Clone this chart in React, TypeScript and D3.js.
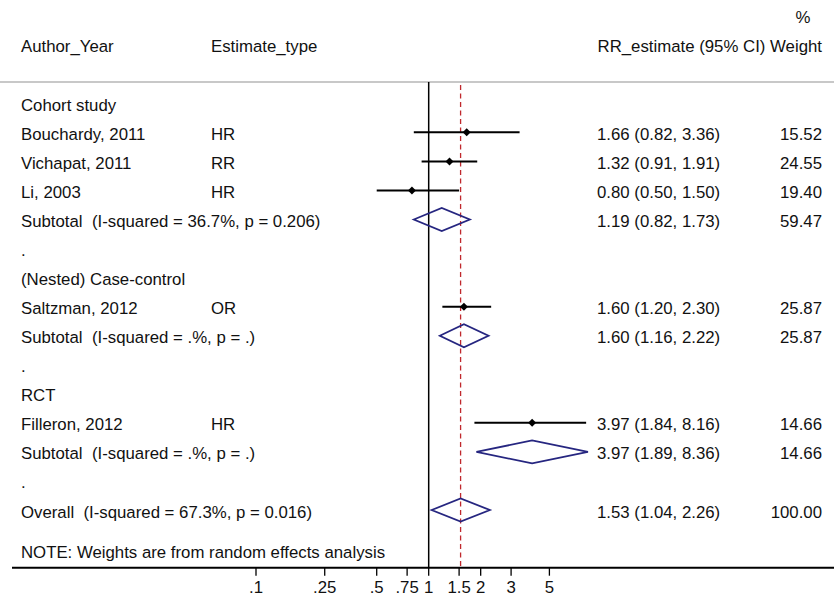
import React from "react";
import * as d3 from "d3";

// Study rows of the forest plot, in display order
const rowLabels = [
  "Cohort study",
  "Bouchardy, 2011",
  "Vichapat, 2011",
  "Li, 2003",
  "Subtotal  (I-squared = 36.7%, p = 0.206)",
  ".",
  "(Nested) Case-control",
  "Saltzman, 2012",
  "Subtotal  (I-squared = .%, p = .)",
  ".",
  "RCT",
  "Filleron, 2012",
  "Subtotal  (I-squared = .%, p = .)",
  ".",
  "Overall  (I-squared = 67.3%, p = 0.016)",
];
// kind: "head" = group heading / spacer, "study" = single estimate, "pooled" = diamond
const rowKinds = [
  "head", "study", "study", "study", "pooled", "head",
  "head", "study", "pooled", "head",
  "head", "study", "pooled", "head",
  "pooled",
];
const estimateTypes = ["", "HR", "RR", "HR", "", "", "", "OR", "", "", "", "HR", "", "", ""];
const rrEstimate: (number | null)[] = [null, 1.66, 1.32, 0.8, 1.19, null, null, 1.6, 1.6, null, null, 3.97, 3.97, null, 1.53];
const ciLower: (number | null)[] = [null, 0.82, 0.91, 0.5, 0.82, null, null, 1.2, 1.16, null, null, 1.84, 1.89, null, 1.04];
const ciUpper: (number | null)[] = [null, 3.36, 1.91, 1.5, 1.73, null, null, 2.3, 2.22, null, null, 8.16, 8.36, null, 2.26];
const weights: (string | null)[] = [null, "15.52", "24.55", "19.40", "59.47", null, null, "25.87", "25.87", null, null, "14.66", "14.66", null, "100.00"];

const tickValues = [0.1, 0.25, 0.5, 0.75, 1, 1.5, 2, 3, 5];
const tickLabels = [".1", ".25", ".5", ".75", "1", "1.5", "2", "3", "5"];
const overallEstimate = 1.53;

const W = 834;
const H = 598;
const FONT = "'Liberation Sans', Arial, sans-serif";
const FS = 16.8;
const TXT = "#111";
const NAVY = "#262680";
const RED = "#c0282d";

const fmt = (v: number) => v.toFixed(2);

export default function App() {
  const x = d3.scaleLog().domain([0.1, 5]).range([256, 549.4]);
  const rowY = d3
    .scaleLinear()
    .domain([0, rowLabels.length - 1])
    .range([103.3, 103.3 + 29.05 * (rowLabels.length - 1)]);

  const axisY = 567.7;
  const headerLineY = 82;

  return (
    <svg
      width={W}
      height={H}
      style={{ position: "absolute", left: 0, top: 0, display: "block", background: "#fff" }}
      fontFamily={FONT}
    >
      <rect x={0} y={0} width={W} height={H} fill="#fff" />

      {/* header */}
      <text x={803} y={23} fontSize={FS} fill={TXT} textAnchor="middle">%</text>
      <text x={21} y={52} fontSize={FS} fill={TXT}>Author_Year</text>
      <text x={211} y={52} fontSize={FS} fill={TXT}>Estimate_type</text>
      <text x={822} y={52} fontSize={FS} fill={TXT} textAnchor="end">RR_estimate (95% CI) Weight</text>
      <line x1={0} x2={W} y1={headerLineY} y2={headerLineY} stroke="#c8c8c8" strokeWidth={2} />

      {/* null line and overall estimate line */}
      <line x1={x(1)} x2={x(1)} y1={headerLineY} y2={axisY} stroke="#000" strokeWidth={1.5} />
      <line
        x1={x(overallEstimate)}
        x2={x(overallEstimate)}
        y1={85}
        y2={axisY}
        stroke={RED}
        strokeWidth={1.3}
        strokeDasharray="5,3.5"
      />

      {/* rows */}
      {rowLabels.map((label, i) => {
        const y = rowY(i);
        const kind = rowKinds[i];
        const est = rrEstimate[i];
        const lo = ciLower[i];
        const hi = ciUpper[i];
        return (
          <g key={i}>
            <text x={21} y={y + 7.5} fontSize={FS} fill={TXT} style={{ whiteSpace: "pre" }}>
              {label}
            </text>
            {estimateTypes[i] && (
              <text x={211} y={y + 7.5} fontSize={FS} fill={TXT}>
                {estimateTypes[i]}
              </text>
            )}
            {est !== null && lo !== null && hi !== null && (
              <>
                <text x={597} y={y + 7.5} fontSize={FS} fill={TXT}>
                  {`${fmt(est)} (${fmt(lo)}, ${fmt(hi)})`}
                </text>
                <text x={822} y={y + 7.5} fontSize={FS} fill={TXT} textAnchor="end">
                  {weights[i]}
                </text>
                {kind === "study" && (
                  <>
                    <line x1={x(lo)} x2={x(hi)} y1={y} y2={y} stroke="#000" strokeWidth={2} />
                    <path
                      d={`M${x(est) - 4},${y} L${x(est)},${y - 4} L${x(est) + 4},${y} L${x(est)},${y + 4} Z`}
                      fill="#000"
                    />
                  </>
                )}
                {kind === "pooled" && (
                  <path
                    d={`M${x(lo)},${y} L${x(est)},${y - 11.5} L${x(hi)},${y} L${x(est)},${y + 11.5} Z`}
                    fill="none"
                    stroke={NAVY}
                    strokeWidth={1.8}
                  />
                )}
              </>
            )}
          </g>
        );
      })}

      <text x={21} y={558} fontSize={FS} fill={TXT}>NOTE: Weights are from random effects analysis</text>

      {/* x axis */}
      <line x1={12} x2={W} y1={axisY} y2={axisY} stroke="#000" strokeWidth={2} />
      {tickValues.map((t, i) => (
        <g key={t}>
          <line x1={x(t)} x2={x(t)} y1={axisY} y2={axisY + 8} stroke="#000" strokeWidth={1.3} />
          <text x={x(t)} y={593} fontSize={FS} fill={TXT} textAnchor="middle">
            {tickLabels[i]}
          </text>
        </g>
      ))}
    </svg>
  );
}
